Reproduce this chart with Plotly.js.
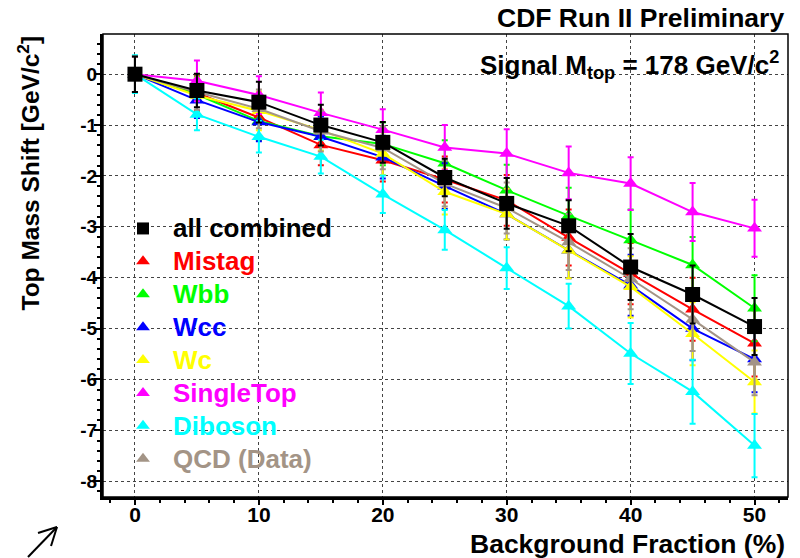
<!DOCTYPE html>
<html>
<head>
<meta charset="utf-8">
<script src="https://cdn.plot.ly/plotly-3.0.1.min.js"></script>
<style>
html,body{margin:0;padding:0;background:#fff;}
#chart{width:800px;height:558px;}
</style>
</head>
<body>
<div id="chart"></div>
<script>
// ---- data ----
const bkgFraction = [0, 5, 10, 15, 20, 25, 30, 35, 40, 45, 50];

const combined    = [0, -0.32, -0.55, -1.00, -1.34, -2.03, -2.54, -2.98, -3.79, -4.33, -4.96];
const combinedErr = [0.35, 0.33, 0.40, 0.40, 0.40, 0.37, 0.50, 0.50, 0.65, 0.57, 0.56];

const mistag      = [0, -0.37, -0.85, -1.39, -1.69, -2.07, -2.48, -3.21, -3.92, -4.62, -5.29];
const mistagErr   = [0.35, 0.35, 0.38, 0.40, 0.42, 0.45, 0.50, 0.55, 0.60, 0.62, 0.65];

const wbb         = [0, -0.40, -0.92, -1.22, -1.37, -1.75, -2.28, -2.78, -3.26, -3.75, -4.60];
const wbbErr      = [0.35, 0.35, 0.38, 0.40, 0.42, 0.45, 0.50, 0.55, 0.60, 0.55, 0.65];

const wcc         = [0, -0.51, -0.94, -1.23, -1.63, -2.20, -2.75, -3.46, -4.15, -5.00, -5.60];
const wccErr      = [0.35, 0.35, 0.38, 0.40, 0.42, 0.45, 0.50, 0.55, 0.60, 0.62, 0.65];

const wc          = [0, -0.42, -0.72, -1.10, -1.56, -2.31, -2.75, -3.46, -4.18, -5.10, -6.05];
const wcErr       = [0.35, 0.35, 0.38, 0.40, 0.42, 0.45, 0.50, 0.55, 0.60, 0.62, 0.62];

const singleTop    = [0, -0.13, -0.41, -0.76, -1.09, -1.44, -1.56, -1.94, -2.15, -2.71, -3.03];
const singleTopErr = [0.35, 0.40, 0.37, 0.40, 0.40, 0.44, 0.48, 0.52, 0.52, 0.57, 0.56];

const diboson     = [0, -0.79, -1.23, -1.62, -2.36, -3.06, -3.81, -4.56, -5.49, -6.24, -7.30];
const dibosonErr  = [0.37, 0.31, 0.31, 0.33, 0.37, 0.39, 0.41, 0.44, 0.60, 0.63, 0.62];

const qcd         = [0, -0.35, -0.68, -1.12, -1.45, -2.15, -2.63, -3.30, -4.02, -4.82, -5.66];
const qcdErr      = [0.35, 0.35, 0.38, 0.40, 0.42, 0.45, 0.50, 0.55, 0.60, 0.62, 0.65];

const xTickVals = [0, 10, 20, 30, 40, 50];
const xTickText = ['0', '10', '20', '30', '40', '50'];
const yTickVals = [0, -1, -2, -3, -4, -5, -6, -7, -8];
const yTickText = ['0', '-1', '-2', '-3', '-4', '-5', '-6', '-7', '-8'];

// ---- series definitions (draw order) ----
const series = [
  {name: 'Mistag',      y: mistag,    e: mistagErr,    color: '#ff0000', sym: 'triangle-up', size: 13, rank: 2},
  {name: 'Wbb',         y: wbb,       e: wbbErr,       color: '#00ff00', sym: 'triangle-up', size: 13, rank: 3},
  {name: 'Wcc',         y: wcc,       e: wccErr,       color: '#0000ff', sym: 'triangle-up', size: 13, rank: 4},
  {name: 'Wc',          y: wc,        e: wcErr,        color: '#ffff00', sym: 'triangle-up', size: 13, rank: 5},
  {name: 'SingleTop',   y: singleTop, e: singleTopErr, color: '#ff00ff', sym: 'triangle-up', size: 13, rank: 6},
  {name: 'Diboson',     y: diboson,   e: dibosonErr,   color: '#00ffff', sym: 'triangle-up', size: 13, rank: 7},
  {name: 'QCD (Data)',  y: qcd,       e: qcdErr,       color: '#a39486', sym: 'triangle-up', size: 13, rank: 8},
  {name: 'all combined',y: combined,  e: combinedErr,  color: '#000000', sym: 'square',      size: 15, rank: 1}
];

const traces = [];
series.forEach(s => {
  traces.push({
    type: 'scatter', mode: 'lines', x: bkgFraction, y: s.y,
    line: {color: s.color, width: 2}, showlegend: false, hoverinfo: 'skip',
    legendgroup: s.name
  });
  traces.push({
    type: 'scatter', mode: 'markers', x: bkgFraction, y: s.y,
    name: '<span style="color:' + s.color + ';font-size:26px">' + s.name + '</span>',
    legendgroup: s.name, legendrank: s.rank,
    marker: {color: s.color, symbol: s.sym, size: s.size, line: {width: 0}},
    error_y: {type: 'data', array: s.e, visible: true, color: s.color, thickness: 2, width: 3}
  });
});

const FONT = 'Liberation Sans, Arial, Helvetica, sans-serif';
const L = 103, R = 788, T = 34, B = 497;
const W = R - L, H = B - T;
const px = x => (x - L) / W;
const py = y => (B - y) / H;

const layout = {
  width: 800, height: 558,
  margin: {l: L, r: 800 - R, t: T, b: 558 - B, pad: 0},
  paper_bgcolor: '#ffffff', plot_bgcolor: '#ffffff',
  font: {family: FONT, color: '#000', weight: 'bold'},
  showlegend: true,
  legend: {
    x: px(113), y: py(207), xanchor: 'left', yanchor: 'top',
    bgcolor: 'rgba(0,0,0,0)', borderwidth: 0,
    font: {family: FONT, size: 23, weight: 'bold'},
    itemsizing: 'constant', itemwidth: 50, traceorder: 'normal',
    tracegroupgap: 0
  },
  xaxis: {
    range: [-2.58, 52.7], tickvals: xTickVals, ticktext: xTickText,
    ticks: 'outside', ticklen: 5, tickwidth: 2, tickcolor: '#000',
    ticklabelstandoff: -8,
    minor: {dtick: 2, tick0: 0, ticks: 'outside', ticklen: 3, tickwidth: 2, tickcolor: '#000', showgrid: false},
    showgrid: true, gridcolor: '#444', griddash: 'dot', gridwidth: 1,
    zeroline: false, showline: true, linecolor: '#000', linewidth: 3,
    tickfont: {family: FONT, size: 21, weight: 'bold', color: '#000'}
  },
  yaxis: {
    range: [-8.31, 0.79], tickvals: yTickVals, ticktext: yTickText,
    ticks: 'outside', ticklen: 6, tickwidth: 2, tickcolor: '#000',
    ticklabelstandoff: -7,
    minor: {dtick: 0.2, tick0: 0, ticks: 'outside', ticklen: 3, tickwidth: 2, tickcolor: '#000', showgrid: false},
    showgrid: true, gridcolor: '#444', griddash: 'dot', gridwidth: 1,
    zeroline: false, showline: true, linecolor: '#000', linewidth: 3,
    tickfont: {family: FONT, size: 19, weight: 'bold', color: '#000'}
  },
  shapes: [
    {type: 'rect', xref: 'paper', yref: 'paper', x0: 0, x1: 1, y0: 0, y1: 1,
     line: {color: '#000', width: 1.5}, fillcolor: 'rgba(0,0,0,0)', layer: 'above'},
    {type: 'line', xref: 'paper', yref: 'paper', x0: px(28), y0: py(557), x1: px(57), y1: py(527),
     line: {color: '#000', width: 2}},
    {type: 'line', xref: 'paper', yref: 'paper', x0: px(57), y0: py(527), x1: px(38), y1: py(533),
     line: {color: '#000', width: 2}},
    {type: 'line', xref: 'paper', yref: 'paper', x0: px(57), y0: py(527), x1: px(51), y1: py(546),
     line: {color: '#000', width: 2}}
  ],
  annotations: [
    {xref: 'paper', yref: 'paper', x: px(786), y: py(18), xanchor: 'right', yanchor: 'middle',
     text: 'CDF Run II Preliminary', showarrow: false,
     font: {family: FONT, size: 26.5, weight: 'bold', color: '#000'}},
    {xref: 'paper', yref: 'paper', x: px(781), y: py(65), xanchor: 'right', yanchor: 'middle',
     text: 'Signal M<sub>top</sub> = 178 GeV/c<sup>2</sup>', showarrow: false,
     font: {family: FONT, size: 26, weight: 'bold', color: '#000'}},
    {xref: 'paper', yref: 'paper', x: px(787), y: py(544), xanchor: 'right', yanchor: 'middle',
     text: 'Background Fraction (%)', showarrow: false,
     font: {family: FONT, size: 26.5, weight: 'bold', color: '#000'}},
    {xref: 'paper', yref: 'paper', x: px(28), y: py(34), xanchor: 'center', yanchor: 'top',
     text: 'Top Mass Shift [GeV/c<sup>2</sup>]', showarrow: false, textangle: -90,
     font: {family: FONT, size: 24.5, weight: 'bold', color: '#000'}}
  ]
};

Plotly.newPlot('chart', traces, layout, {displayModeBar: false, staticPlot: true});
</script>
</body>
</html>
